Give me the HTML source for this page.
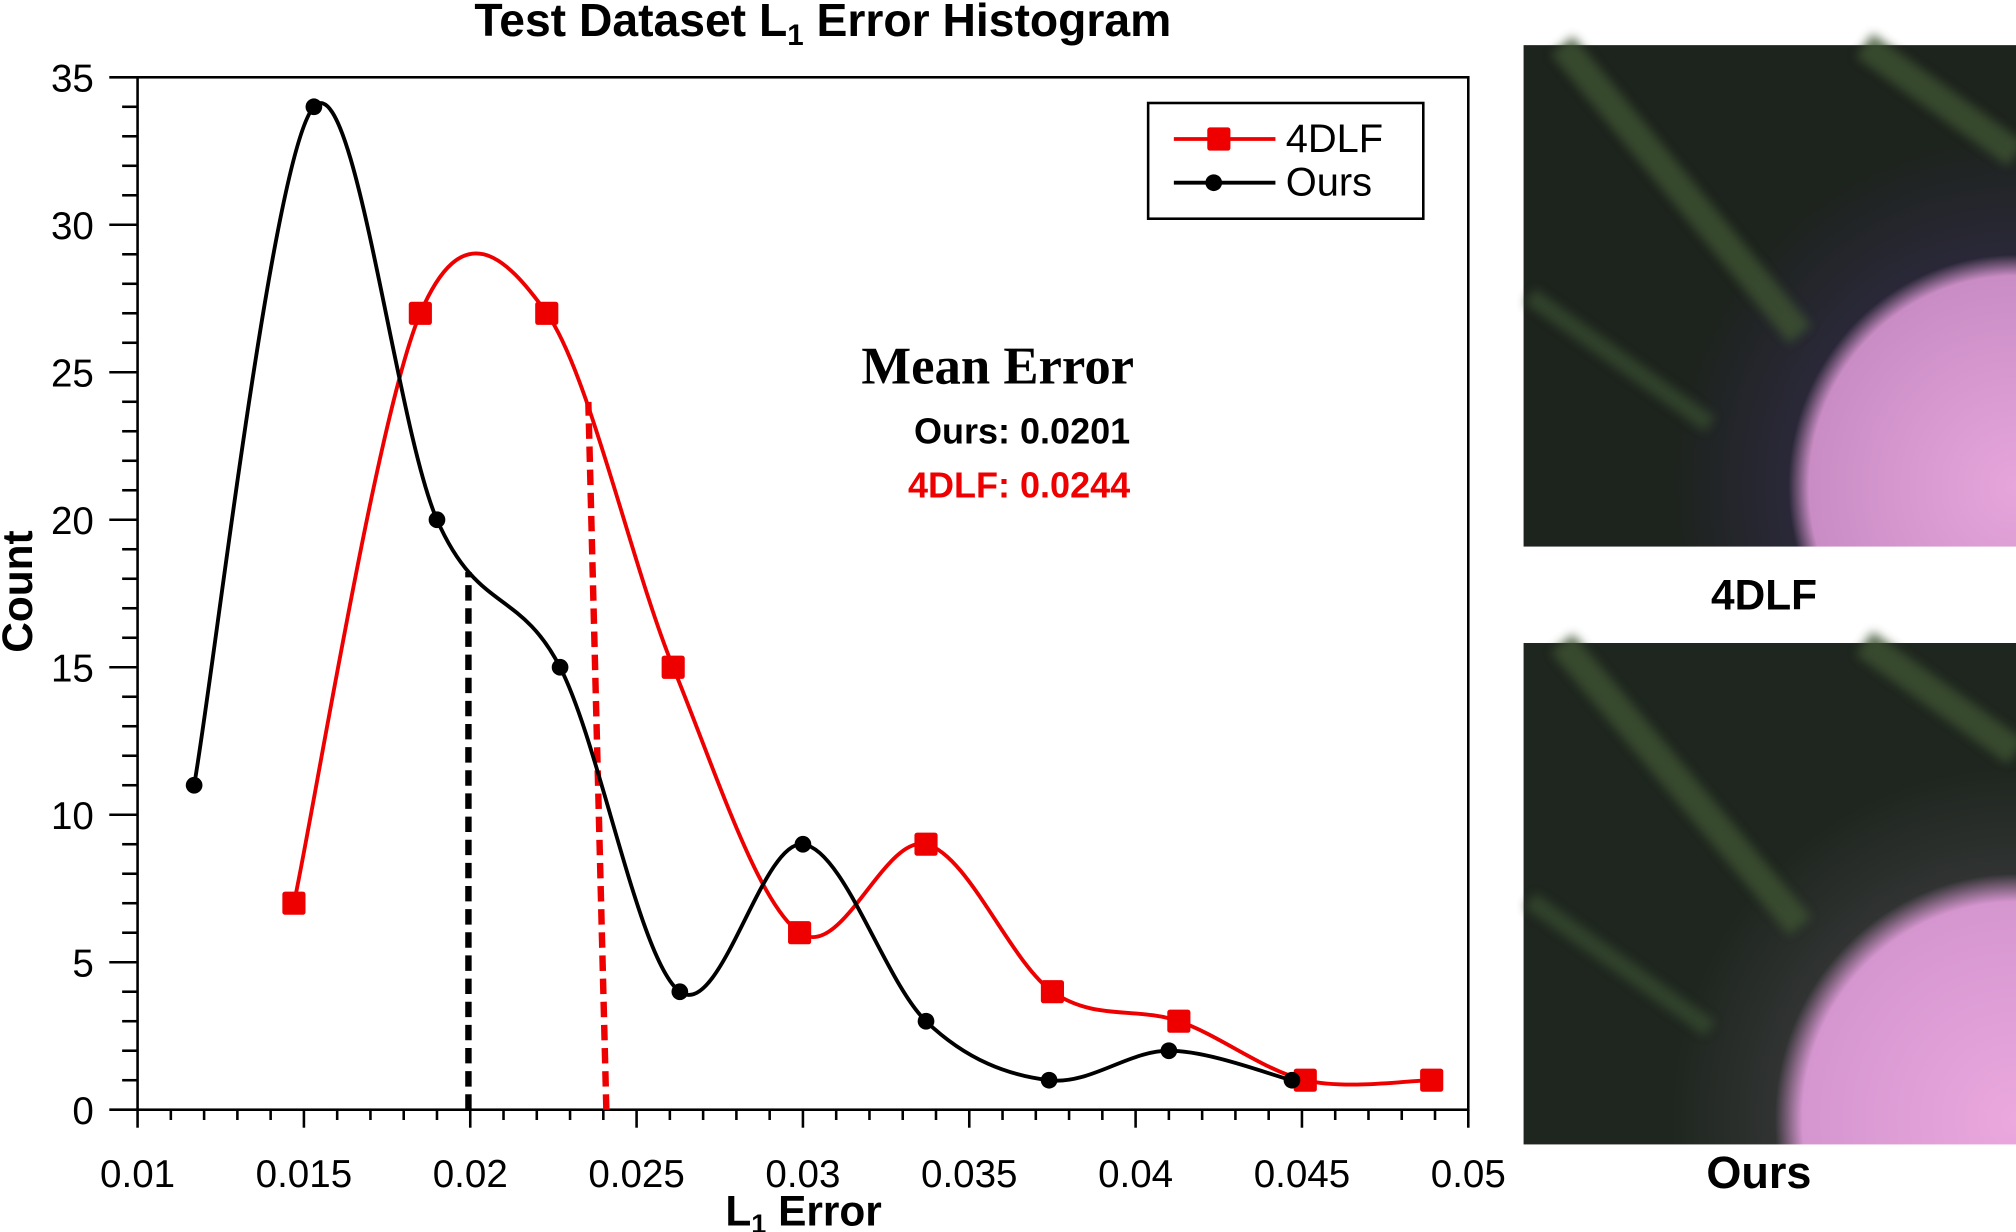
<!DOCTYPE html>
<html><head><meta charset="utf-8">
<style>
html,body{margin:0;padding:0;background:#fff;}
svg{display:block;font-family:"Liberation Sans",Arial,sans-serif;}
</style></head>
<body>
<svg id="chart" width="2016" height="1232" viewBox="0 0 1568 958" xmlns="http://www.w3.org/2000/svg">
<defs>
  <radialGradient id="flower1" cx="1" cy="0.88" r="0.7">
    <stop offset="0" stop-color="#e6a6dc"/><stop offset="0.6" stop-color="#c98cc4"/><stop offset="0.66" stop-color="#2a2838"/><stop offset="1" stop-color="#1d231d"/>
  </radialGradient>
  <radialGradient id="flower2" cx="1" cy="0.95" r="0.7">
    <stop offset="0" stop-color="#eaa8de"/><stop offset="0.62" stop-color="#d595cf"/><stop offset="0.7" stop-color="#303332"/><stop offset="1" stop-color="#1f261f"/>
  </radialGradient>
  <filter id="blur"><feGaussianBlur stdDeviation="4"/></filter>
</defs>
<text x="640" y="28" text-anchor="middle" font-size="36" font-weight="bold">Test Dataset L<tspan font-size="23" dy="7">1</tspan><tspan dy="-7"> Error Histogram</tspan></text>
<g id="axes"></g>
<g id="plot"></g>
<text x="625" y="953" text-anchor="middle" font-size="33" font-weight="bold">L<tspan font-size="21" dy="6">1</tspan><tspan dy="-6"> Error</tspan></text>
<text transform="translate(25,460) rotate(-90)" text-anchor="middle" font-size="33" font-weight="bold">Count</text>
<g>
  <rect x="893" y="80" width="214" height="90" fill="#fff" stroke="#000" stroke-width="2"/>
  <line x1="913" y1="108" x2="992" y2="108" stroke="#e00" stroke-width="3"/>
  <rect x="939" y="99" width="18" height="18" rx="2" fill="#e00"/>
  <text x="1000" y="118" font-size="31">4DLF</text>
  <line x1="913" y1="142" x2="992" y2="142" stroke="#000" stroke-width="3"/>
  <circle cx="944" cy="142" r="6.5" fill="#000"/>
  <text x="1000" y="152" font-size="31">Ours</text>
</g>
<text x="776" y="298" text-anchor="middle" font-family="'Liberation Serif',serif" font-size="41" font-weight="bold">Mean Error</text>
<text x="879" y="345" text-anchor="end" font-size="28" font-weight="bold">Ours: 0.0201</text>
<text x="879" y="387" text-anchor="end" font-size="28" font-weight="bold" fill="#e00">4DLF: 0.0244</text>
<g>
  <rect x="1185" y="35" width="383" height="390" fill="url(#flower1)"/>
  <g filter="url(#blur)" opacity="0.8">
  <line x1="1215" y1="35" x2="1400" y2="260" stroke="#3c5232" stroke-width="22"/>
  <line x1="1450" y1="35" x2="1568" y2="120" stroke="#3c5232" stroke-width="22"/>
  <line x1="1190" y1="230" x2="1330" y2="330" stroke="#354a2e" stroke-width="14"/>
  </g>
</g>
<text x="1372" y="474" text-anchor="middle" font-size="33" font-weight="bold">4DLF</text>
<g>
  <rect x="1185" y="500" width="383" height="390" fill="url(#flower2)"/>
  <g filter="url(#blur)" opacity="0.8">
  <line x1="1215" y1="500" x2="1400" y2="720" stroke="#3c5232" stroke-width="22"/>
  <line x1="1450" y1="500" x2="1568" y2="585" stroke="#3c5232" stroke-width="22"/>
  <line x1="1190" y1="700" x2="1330" y2="800" stroke="#354a2e" stroke-width="14"/>
  </g>
</g>
<text x="1368" y="924" text-anchor="middle" font-size="35" font-weight="bold">Ours</text>
</svg>
<script>
const oursX = [0.0117,0.0153,0.0190,0.0227,0.0263,0.0300,0.0337,0.0374,0.0410,0.0447];
const oursY = [11,34,20,15,4,9,3,1,2,1];
const dlfX = [0.0147,0.0185,0.0223,0.0261,0.0299,0.0337,0.0375,0.0413,0.0451,0.0489];
const dlfY = [7,27,27,15,6,9,4,3,1,1];
const xTicks = ["0.01","0.015","0.02","0.025","0.03","0.035","0.04","0.045","0.05"];
const yTicks = ["0","5","10","15","20","25","30","35"];
const meanOurs = 0.0201, meanDlf = 0.0244;

const NS="http://www.w3.org/2000/svg";
const L=107,R=1142,T=60,B=863;
const xs=v=>L+(v-0.01)/0.04*(R-L);
const ys=v=>B-v/35*(B-T);
function mk(tag,attrs,parent){const e=document.createElementNS(NS,tag);for(const k in attrs)e.setAttribute(k,attrs[k]);parent.appendChild(e);return e;}
const axes=document.getElementById('axes'), plot=document.getElementById('plot');
const frame=mk('rect',{x:L,y:T,width:R-L,height:B-T,fill:'none',stroke:'#000','stroke-width':2},axes);


for(let i=0;i<=40;i++){const v=0.01+i*0.001,x=xs(v),maj=i%5==0;
  mk('line',{x1:x,y1:B,x2:x,y2:B+(maj?14:8),stroke:'#000','stroke-width':2},axes);
  if(maj){const t=mk('text',{x:x,y:B+60,'text-anchor':'middle','font-size':30},axes);t.textContent=xTicks[i/5];
    
    }}
for(let i=0;i<=35;i++){const y=ys(i),maj=i%5==0;
  mk('line',{x1:L,y1:y,x2:L-(maj?22:12),y2:y,stroke:'#000','stroke-width':2},axes);
  if(maj){const t=mk('text',{x:73,y:y+11,'text-anchor':'end','font-size':30},axes);t.textContent=yTicks[i/5];
    
    }}
function spline(X,Y){const p=X.map((x,i)=>[xs(x),ys(Y[i])]);let d=`M${p[0][0]},${p[0][1]}`;
  for(let i=0;i<p.length-1;i++){const p0=p[i-1]||p[i],p1=p[i],p2=p[i+1],p3=p[i+2]||p2;
    d+=` C${p1[0]+(p2[0]-p0[0])/6},${p1[1]+(p2[1]-p0[1])/6} ${p2[0]-(p3[0]-p1[0])/6},${p2[1]-(p3[1]-p1[1])/6} ${p2[0]},${p2[1]}`;}return d;}
function interpY(X,Y,xv){const p=X.map((x,i)=>[xs(x),ys(Y[i])]);const px=xs(xv);
  for(let i=0;i<p.length-1;i++){if(px>=p[i][0]&&px<=p[i+1][0]){const p0=p[i-1]||p[i],p1=p[i],p2=p[i+1],p3=p[i+2]||p2;
    const c=[p1,[p1[0]+(p2[0]-p0[0])/6,p1[1]+(p2[1]-p0[1])/6],[p2[0]-(p3[0]-p1[0])/6,p2[1]-(p3[1]-p1[1])/6],p2];
    let lo=0,hi=1;for(let k=0;k<40;k++){const t=(lo+hi)/2;const bx=(1-t)**3*c[0][0]+3*(1-t)**2*t*c[1][0]+3*(1-t)*t*t*c[2][0]+t**3*c[3][0];if(bx<px)lo=t;else hi=t;}
    const t=lo;return (1-t)**3*c[0][1]+3*(1-t)**2*t*c[1][1]+3*(1-t)*t*t*c[2][1]+t**3*c[3][1];}}return B;}
const m1=mk('line',{x1:xs(meanOurs)-4,y1:B,x2:xs(meanOurs)-4,y2:interpY(oursX,oursY,meanOurs-0.00015),stroke:'#000','stroke-width':5,'stroke-dasharray':'12,6'},plot);


const m2=mk('line',{x1:xs(meanDlf)-8,y1:B,x2:xs(meanDlf)-22,y2:interpY(dlfX,dlfY,meanDlf-0.0009),stroke:'#e00','stroke-width':5,'stroke-dasharray':'12,6'},plot);


const l2=mk('path',{d:spline(dlfX,dlfY),fill:'none',stroke:'#e00','stroke-width':3},plot);


const l1=mk('path',{d:spline(oursX,oursY),fill:'none',stroke:'#000','stroke-width':3},plot);


dlfX.forEach((x,i)=>{const r=mk('rect',{x:xs(x)-9,y:ys(dlfY[i])-9,width:18,height:18,rx:2,fill:'#e00'},plot);
  
  });
oursX.forEach((x,i)=>{const c=mk('circle',{cx:xs(x),cy:ys(oursY[i]),r:6.5,fill:'#000'},plot);
  
  });
</script>
</body></html>
